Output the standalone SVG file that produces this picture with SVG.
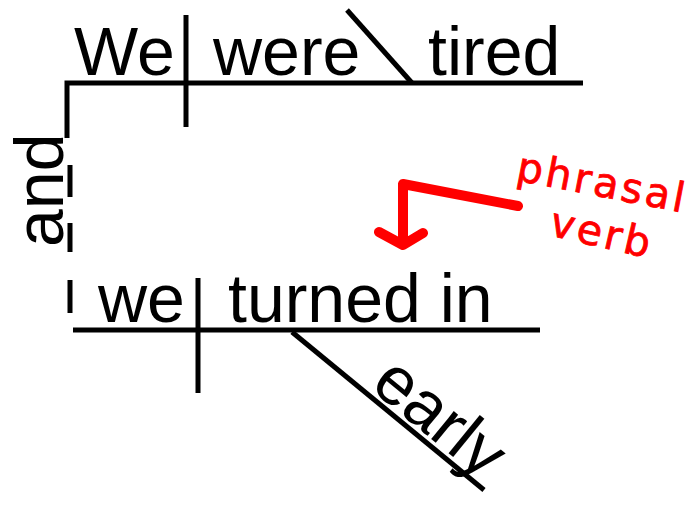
<svg xmlns="http://www.w3.org/2000/svg" width="700" height="505" viewBox="0 0 700 505">
<style>
.t{font-family:"Liberation Sans",Arial,sans-serif;font-size:68px;fill:#000}
.l{stroke:#000;stroke-width:5;fill:none}
.r{stroke:#f00;stroke-width:10;fill:none;stroke-linecap:round;stroke-linejoin:round}
.h{font-family:"DejaVu Sans",sans-serif;font-size:41px;fill:#f00;stroke:#f00;stroke-width:0.8;letter-spacing:3px}
</style>
<rect width="700" height="505" fill="#fff"/>
<g id="connectors">
<path class="l" d="M67 138 V83 H583"/>
<path class="l" d="M186 15 V127"/>
<path class="l" d="M347 10 L412 83"/>
<path class="l" d="M70 165 V197 M70 223 V252 M70 280 V313"/>
<path class="l" d="M73 330 H540"/>
<path class="l" d="M198 278 V393"/>
<path class="l" d="M292 332 L484 490"/>
<path class="r" d="M518 206 L403 184 V245 M379 232 L403 245 L423 233"/>
</g>
<g id="node-we1"><text class="t" x="74" y="75">We</text></g>
<g id="node-were"><text class="t" x="213" y="75">were</text></g>
<g id="node-tired"><text class="t" x="428" y="75">tired</text></g>
<g id="node-and"><text class="t" transform="translate(63,247) rotate(-90)">and</text></g>
<g id="node-we2"><text class="t" x="98" y="322">we</text></g>
<g id="node-turnedin"><text class="t" x="228" y="322">turned in</text></g>
<g id="node-early"><text class="t" transform="translate(369,388) rotate(39.3)">early</text></g>
<g id="note">
<text class="h" transform="translate(515,180) rotate(11)">phrasal</text>
<text class="h" transform="translate(548,235) rotate(13)">verb</text>
</g>
</svg>
